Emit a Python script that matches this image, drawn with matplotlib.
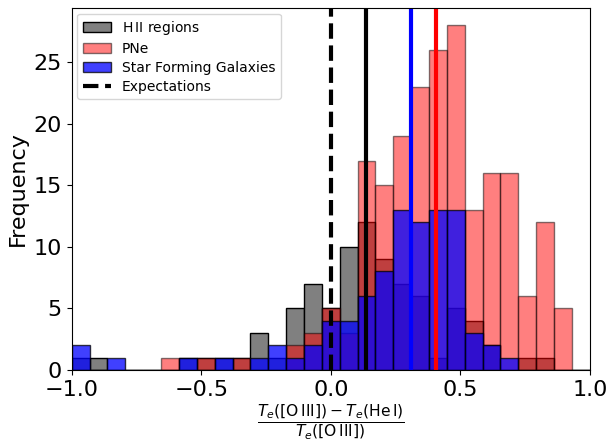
import numpy as np
import matplotlib.pyplot as plt

# 29 equal bins spanning [-1, 1]
bin_edges = np.linspace(-1, 1, 30)

# counts per bin
hii_counts = [1, 1, 0, 0, 0, 0, 1, 1, 1, 1, 3, 1, 5, 7, 5,
              10, 12, 9, 7, 6, 1, 5, 4, 2, 0, 1, 1, 0, 0]
pne_counts = [0, 0, 0, 0, 0, 1, 0, 1, 0, 1, 0, 0, 2, 3, 5,
              3, 17, 15, 19, 23, 26, 28, 13, 16, 16, 6, 12, 5, 0]
sfg_counts = [2, 0, 1, 0, 0, 0, 1, 0, 1, 0, 1, 2, 1, 2, 4,
              4, 6, 8, 13, 12, 13, 13, 3, 2, 1, 0, 0, 0, 0]

expectation = 0.0
hii_median = 0.135
sfg_median = 0.308
pne_median = 0.405

centers = 0.5 * (bin_edges[:-1] + bin_edges[1:])

fig = plt.figure(figsize=(6.08, 4.43), dpi=100)
ax = fig.add_axes([0.118, 0.165, 0.852, 0.817])

ax.hist(centers, bins=bin_edges, weights=hii_counts, color='gray', edgecolor='k',
        label=r'H$\,$II regions')
ax.hist(centers, bins=bin_edges, weights=pne_counts, color='red', alpha=0.5, edgecolor='k',
        label='PNe')
ax.hist(centers, bins=bin_edges, weights=sfg_counts, color='blue', alpha=0.75, edgecolor='k',
        label='Star Forming Galaxies')

ax.axvline(expectation, color='k', ls='--', lw=3, label='Expectations')
ax.axvline(hii_median, color='k', lw=3)
ax.axvline(sfg_median, color='blue', lw=3)
ax.axvline(pne_median, color='red', lw=3)

ax.set_xlim(-1, 1)
ax.set_ylabel('Frequency', fontsize=16)
ax.set_xlabel(r'$\frac{T_e([\mathrm{O\,III}]) - T_e(\mathrm{He\,I})}{T_e([\mathrm{O\,III}])}$',
              fontsize=16, labelpad=2)
ax.tick_params(labelsize=16)
ax.legend(loc='upper left', fontsize=10, labelspacing=0.35, borderaxespad=0.4)

plt.savefig('out.png', dpi=100)
